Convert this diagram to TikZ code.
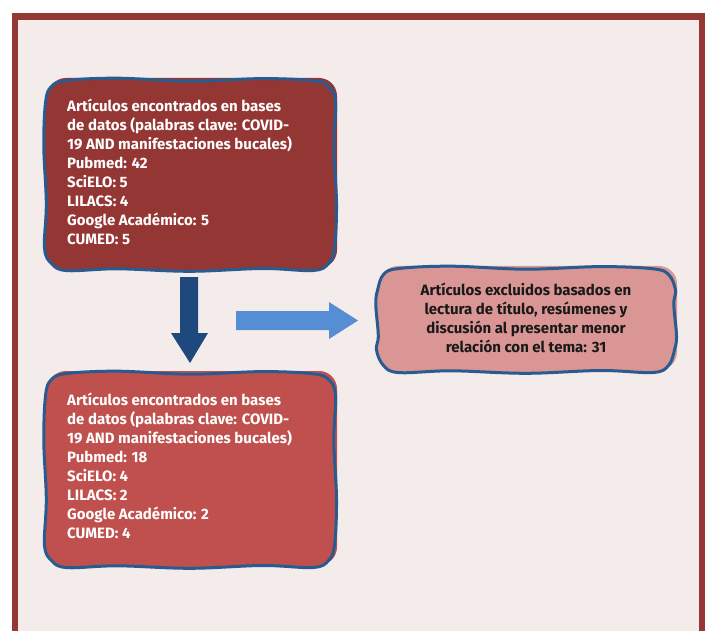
\documentclass[tikz,border=0pt]{standalone}
\usepackage{fontspec}
\setmainfont{Fira Sans}
\definecolor{bgc}{HTML}{F4EBEB}
\definecolor{framec}{HTML}{953735}
\definecolor{boxa}{HTML}{943634}
\definecolor{boxb}{HTML}{C0504D}
\definecolor{boxc}{HTML}{D99694}
\definecolor{wavec}{HTML}{2A5B90}
\definecolor{darrowc}{HTML}{1F497D}
\definecolor{rarrowc}{HTML}{558ED5}
% wavy rounded box: x0 y0 x1 y1 fill
\newcommand\wavyboxdraw[5]{%
  \fill[#5, rounded corners=18pt] ({#1+3},{#2-2}) rectangle ({#3+2},{#4-2});
  \filldraw[wavyline, fill=#5] plot[smooth cycle, tension=0.6] coordinates {
    ({#1+22},{#2+0.5}) ({#1+0.25*(#3-#1)},{#2-1.8}) ({#1+0.5*(#3-#1)},{#2+1.2}) ({#1+0.75*(#3-#1)},{#2-1.4}) ({#3-22},{#2+0.8})
    ({#3-6.5},{#2+6.5})
    ({#3+0.5},{#2+22}) ({#3-1.2},{#2+0.35*(#4-#2)}) ({#3+1.5},{#2+0.65*(#4-#2)}) ({#3-0.5},{#4-22})
    ({#3-6.5},{#4-6.5})
    ({#3-22},{#4+0.5}) ({#1+0.75*(#3-#1)},{#4-1.5}) ({#1+0.5*(#3-#1)},{#4+1.3}) ({#1+0.25*(#3-#1)},{#4-1.2}) ({#1+22},{#4+0.6})
    ({#1+6.5},{#4-6.5})
    ({#1-0.5},{#4-22}) ({#1+1.3},{#2+0.65*(#4-#2)}) ({#1-1.2},{#2+0.35*(#4-#2)}) ({#1+0.6},{#2+22})
    ({#1+6.5},{#2+6.5})
  };}
\begin{document}
\begin{tikzpicture}[x=1pt,y=-1pt,
  wavyline/.style={draw=wavec, line width=3pt, line join=round},
  txtw/.style={font=\bfseries\fontsize{15}{19}\selectfont, text=white, align=left, inner sep=0pt},
  txtk/.style={font=\bfseries\fontsize{15}{18.8}\selectfont, text=black!90, align=center, inner sep=0pt}]
\useasboundingbox (0,0) rectangle (707,631);
\clip (0,0) rectangle (707,631);
\fill[white] (0,0) rectangle (707,631);
\fill[bgc] (15,16) rectangle (702,640);
\draw[framec, line width=6.5pt] (15,650) -- (15,16.5) -- (702,16.5) -- (702,650);
% boxes
\wavyboxdraw{45}{80}{335}{270}{boxa}
\wavyboxdraw{45}{373}{335}{567}{boxb}
\wavyboxdraw{377}{268}{675}{372}{boxc}
% arrows
\fill[darrowc] (180,277) -- (198,277) -- (198,333) -- (208,333) -- (190,363) -- (171,333) -- (180,333) -- cycle;
\fill[rarrowc] (236,311) -- (329,311) -- (329,302) -- (358,320.5) -- (329,339) -- (329,330) -- (236,330) -- cycle;
% texts
\node[txtw, anchor=north west] (b1) at (67,98.5) {Artículos encontrados en bases\\de datos (palabras clave: COVID-\\19 AND manifestaciones bucales)\\Pubmed: 42\\SciELO: 5\\LILACS: 4\\Google Académico: 5\\CUMED: 5};
\node[txtw, anchor=north west] (b2) at (67,392.5) {Artículos encontrados en bases\\de datos (palabras clave: COVID-\\19 AND manifestaciones bucales)\\Pubmed: 18\\SciELO: 4\\LILACS: 2\\Google Académico: 2\\CUMED: 4};
\node[txtk, anchor=north] (b3) at (526,283) {Artículos excluidos basados en\\lectura de título, resúmenes y\\discusión al presentar menor\\relación con el tema: 31};
\end{tikzpicture}
\end{document}
